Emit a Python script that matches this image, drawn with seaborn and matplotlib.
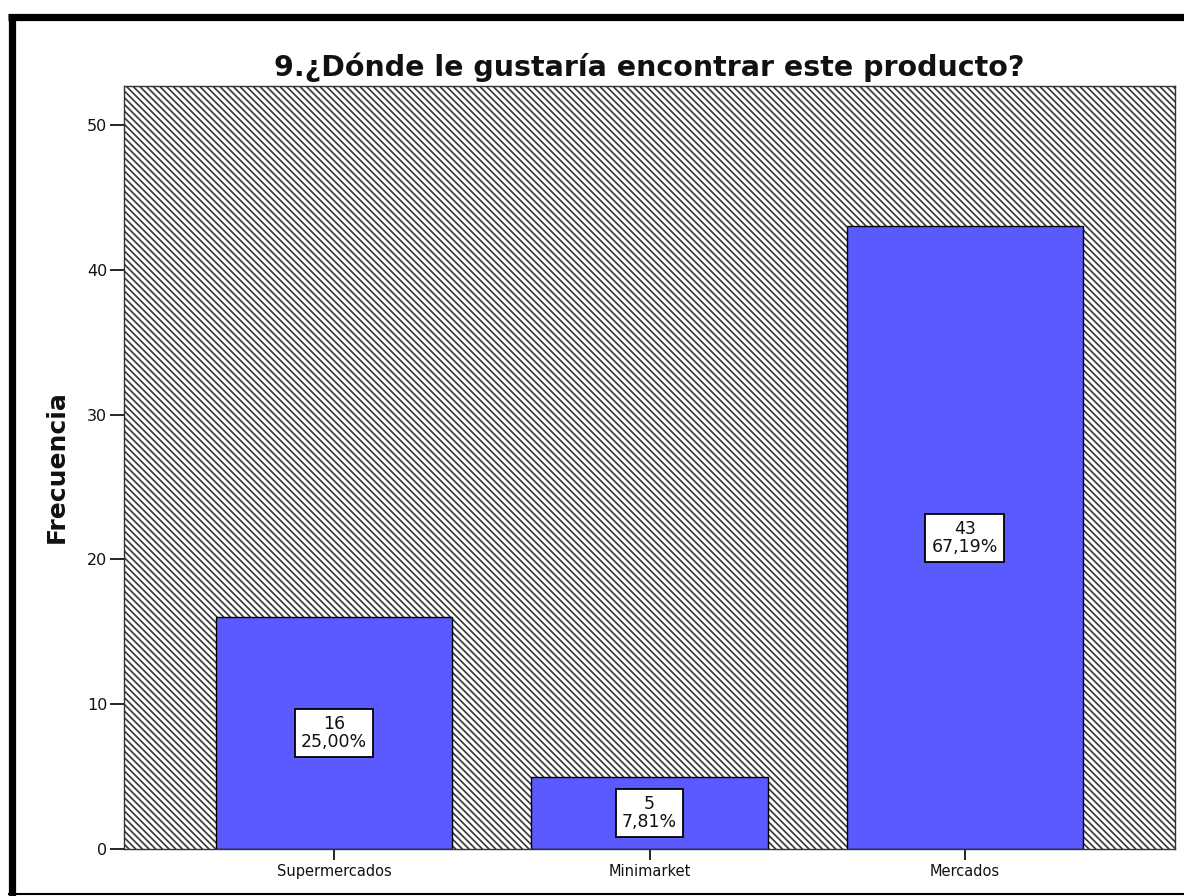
import numpy as np
import matplotlib
matplotlib.use("Agg")
import matplotlib.pyplot as plt
from matplotlib.patches import Rectangle
from matplotlib.lines import Line2D
import seaborn as sns

#------------------------------ data ------------------------------
categories = ["Supermercados", "Minimarket", "Mercados"]
counts = [16, 5, 43]
percents = [25.00, 7.81, 67.19]
y_ticks = [0, 10, 20, 30, 40, 50]

title = "9.¿Dónde le gustaría encontrar este producto?"
y_label = "Frecuencia"

#------------------------------ style ------------------------------
sns.set_style("white")
plt.rcParams['font.family'] = ['DejaVu Sans']
plt.rcParams['hatch.linewidth'] = 1.25

bar_color = "#5a5aff"

fig = plt.figure(figsize=(11.84, 8.96), dpi=100)
ax = fig.add_axes([124 / 1184, 1 - 849 / 896, (1175 - 124) / 1184, (849 - 86) / 896])

# hatched SPSS style background
bg = Rectangle((0, 0), 1, 1, transform=ax.transAxes, facecolor="white",
               edgecolor="#3a3a3a", hatch="\\\\\\\\\\", linewidth=0, zorder=0)
ax.add_patch(bg)

sns.barplot(x=categories, y=counts, color=bar_color, saturation=1, width=0.75,
            edgecolor="black", linewidth=1, ax=ax, zorder=2)

ax.set_xlim(-0.667, 2.667)
ax.set_ylim(0, 52.7)
ax.set_yticks(y_ticks)

# value boxes in the middle of each bar
for i, (c, p) in enumerate(zip(counts, percents)):
    txt = f"{c}\n{p:.2f}%".replace(".", ",")
    ax.text(i, c / 2, txt, ha="center", va="center", fontsize=12.5,
            linespacing=1.0, zorder=5, color="#111111",
            bbox=dict(boxstyle="square,pad=0.35", facecolor="white",
                      edgecolor="black", linewidth=1.3))

for s in ax.spines.values():
    s.set_visible(True)
    s.set_color("#333333")
    s.set_linewidth(1)

ax.tick_params(axis="y", direction="out", length=10, width=1.2, color="black",
               labelsize=11.5, left=True, pad=2, labelcolor="#111111")
ax.tick_params(axis="x", direction="out", length=8, width=1.2, color="black",
               labelsize=10.5, bottom=True, pad=3, labelcolor="#111111")
ax.set_xlabel("")
ax.set_ylabel(y_label, fontsize=18, fontweight="bold", color="#111111")
ax.yaxis.set_label_coords(-55 / 1051, (849 - 467) / 763)
ax.set_title(title, fontsize=20.5, fontweight="bold", pad=7, color="#111111")

# outer frame (top, left thick; bottom thin)
W, H = 1184, 896
fig.add_artist(Line2D([8 / W, 1.0], [1 - 17.5 / H, 1 - 17.5 / H], color="black",
                      linewidth=5.2, solid_capstyle="butt", transform=fig.transFigure))
fig.add_artist(Line2D([11.5 / W, 11.5 / W], [1 - 14 / H, 0], color="black",
                      linewidth=5.2, solid_capstyle="butt", transform=fig.transFigure))
fig.add_artist(Line2D([8 / W, 1.0], [1 - 893.5 / H, 1 - 893.5 / H], color="black",
                      linewidth=1.5, solid_capstyle="butt", transform=fig.transFigure))

plt.savefig("out.png", dpi=100)
